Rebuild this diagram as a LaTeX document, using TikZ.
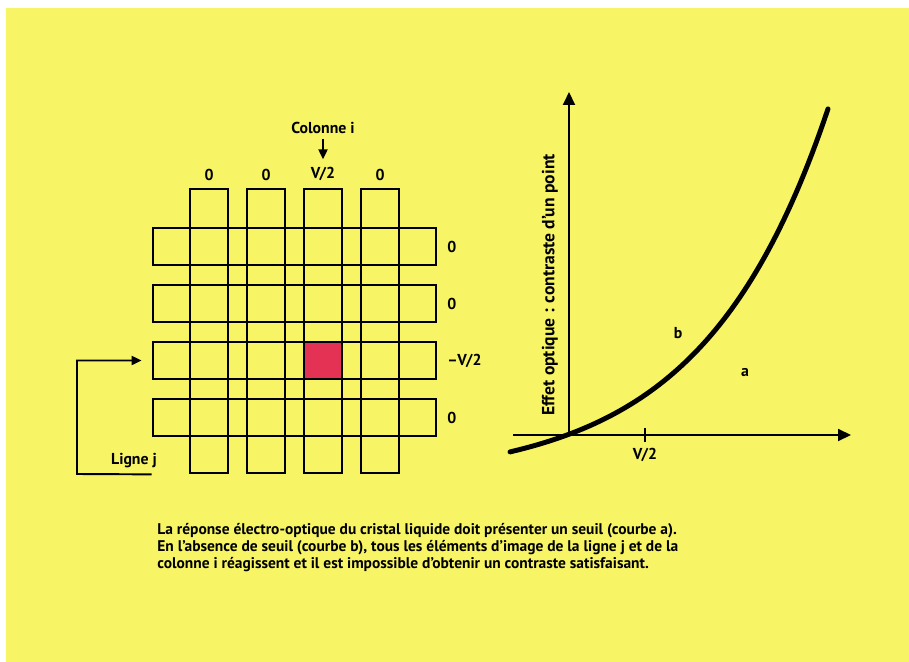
\documentclass[tikz,border=0pt]{standalone}
\usepackage{fontspec}
\setmainfont{PT Sans}
\usetikzlibrary{arrows.meta, positioning, calc}

\definecolor{paper}{RGB}{247,244,102}
\definecolor{pixred}{RGB}{228,50,85}

\begin{document}
\begin{tikzpicture}[
    x=0.02cm, y=-0.02cm,
    font=\bfseries\fontsize{9}{10}\selectfont,
    colbar/.style={rectangle, draw=black, line width=1.6pt,
                   minimum width=0.76cm, minimum height=5.68cm, inner sep=0pt},
    rowbar/.style={rectangle, draw=black, line width=1.6pt,
                   minimum width=5.66cm, minimum height=0.74cm, inner sep=0pt},
    cell/.style={rectangle, fill=pixred, minimum size=0.74cm, inner sep=0pt},
    lbl/.style={inner sep=1pt},
    arrow/.style={-{Triangle[length=2mm, width=1.8mm]}, line width=1.1pt},
    axis/.style={-{Triangle[length=2.6mm, width=2.4mm]}, line width=1.1pt},
    curve/.style={line width=2.8pt, line cap=round},
]

% page and background
\useasboundingbox (0,0) rectangle (909,662);
\fill[paper] (6,8) rectangle (909,662);

% --- Matrix of electrodes ---
\node[cell] (pix) at (323,360.5) {};

\foreach \i/\val in {1/0, 2/0, 3/{V\kern-0.5pt/2}, 4/0} {
    \node[colbar] (c\i) at ({209+57*(\i-1)}, 331) {};
    \node[lbl, above=3pt of c\i.north] (top\i) {\val};
}
\foreach \j/\val in {1/0, 2/0, 3/{\textendash V\kern-0.5pt/2}, 4/0} {
    \node[rowbar] (r\j) at (294.5, {246.5+57*(\j-1)}) {};
    \node[lbl, anchor=west] (side\j) at ($(r\j.east)+(8,0)$) {\val};
}

% --- Column i ---
\node[lbl] (colonne) at (323,128) {Colonne i};
\draw[arrow, shorten <=2pt, shorten >=3pt] (colonne.south) -- (top3.north);

% --- Line j ---
\coordinate (ljfoot) at (77,474);
\node[lbl] (ligne) at (134,461) {Ligne j};
\draw[arrow, shorten >=0.2cm] (r4.west |- c1.south) -- (ljfoot) |- (r3.west);

% --- Response curve ---
\coordinate (O) at (569,435);
\coordinate (xstart) at (513,435);
\coordinate (xend) at (851,435);
\coordinate (yend) at (569,92);
\draw[axis] (xstart) -- (xend);
\draw[axis] (O) -- (yend);
\coordinate (tick) at (645,435);
\draw[line width=1.1pt] ($(tick)+(0,-7)$) -- ($(tick)+(0,7)$);
\node[lbl] (half) at (645,455) {V\kern-0.5pt/2};

\draw[curve] plot[domain=510:828, samples=80]
    (\x, {435-46.2*(exp(0.008*(\x-567))-1)});

\node[lbl] (b) at (678,333) {b};
\node[lbl] (a) at (745,373) {a};
\node[lbl, rotate=90, font=\bfseries\fontsize{10}{11}\selectfont] (effet) at (550,285)
    {Effet optique : contraste d'un point};

% --- Caption ---
\node[anchor=north west, inner sep=0pt, align=left,
      font=\bfseries\fontsize{8.8}{9.6}\selectfont] (legende) at (157,523)
    {La réponse électro-optique du cristal liquide doit présenter un seuil (courbe a).\\
     En l'absence de seuil (courbe b), tous les éléments d'image de la ligne j et de la\\
     colonne i réagissent et il est impossible d'obtenir un contraste satisfaisant.};

\end{tikzpicture}
\end{document}
